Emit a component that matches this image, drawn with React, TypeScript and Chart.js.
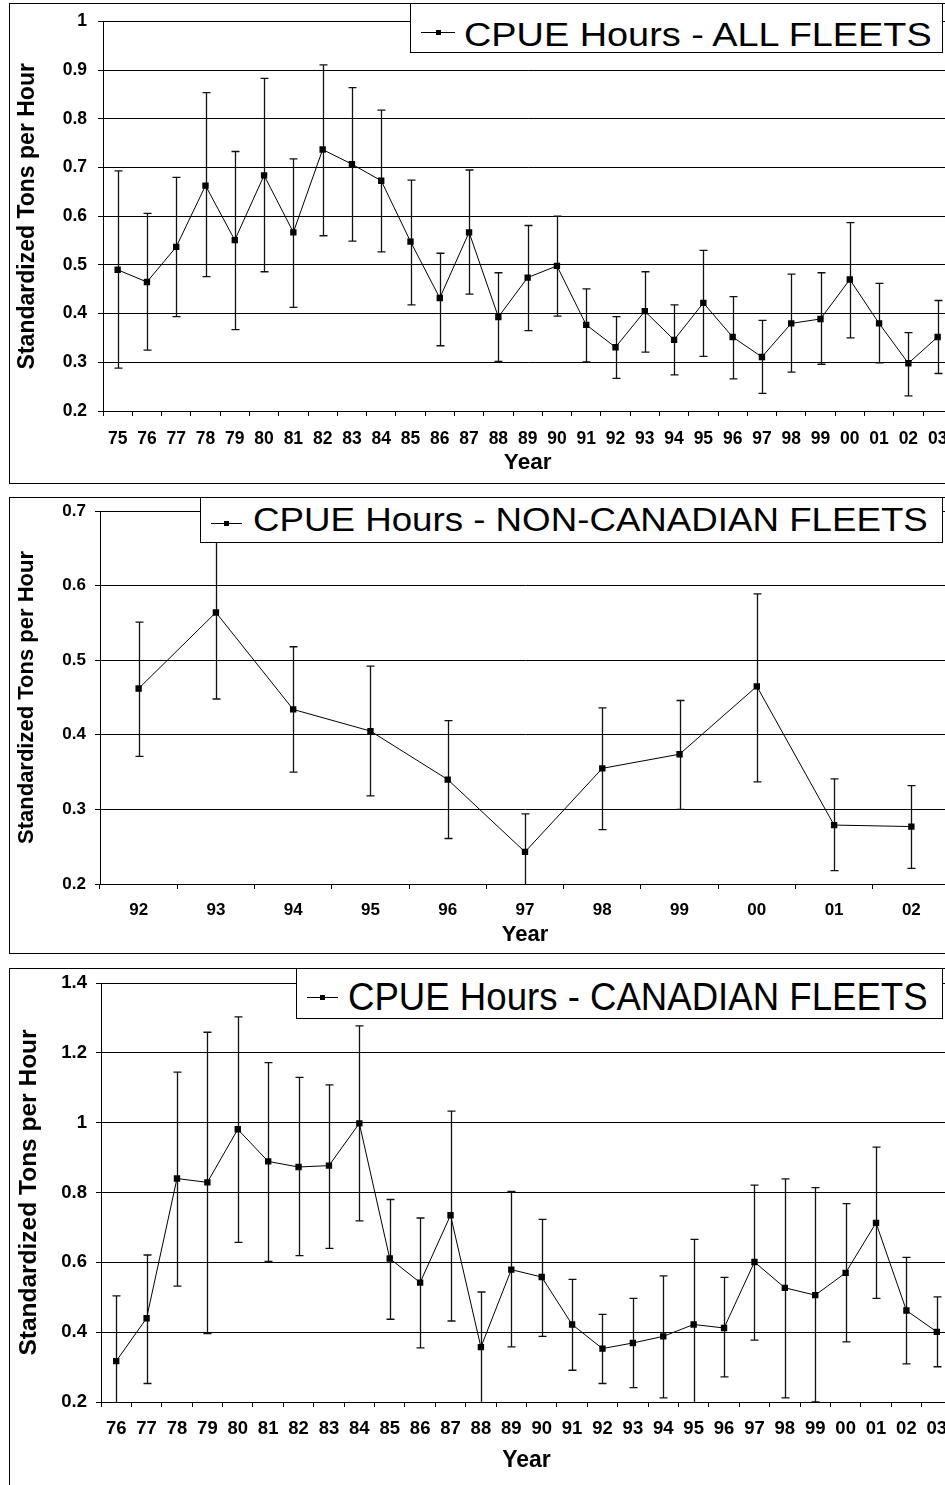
import React, { useEffect, useRef } from 'react';
import { Chart, registerables } from 'chart.js';

Chart.register(...registerables);

// ---------------- DATA ----------------
const yearsAll = ['75','76','77','78','79','80','81','82','83','84','85','86','87','88','89','90','91','92','93','94','95','96','97','98','99','00','01','02','03'];
const cpueAll = [0.490,0.465,0.537,0.663,0.551,0.684,0.567,0.737,0.707,0.673,0.548,0.432,0.567,0.393,0.474,0.498,0.377,0.331,0.405,0.346,0.422,0.352,0.311,0.380,0.389,0.470,0.380,0.298,0.352];
const upperAll = [0.693,0.606,0.680,0.854,0.733,0.883,0.718,0.911,0.864,0.818,0.674,0.524,0.695,0.484,0.581,0.600,0.451,0.394,0.486,0.418,0.530,0.435,0.386,0.481,0.484,0.587,0.462,0.361,0.427];
const lowerAll = [0.288,0.325,0.394,0.476,0.367,0.486,0.413,0.560,0.549,0.527,0.418,0.334,0.440,0.302,0.365,0.395,0.301,0.267,0.321,0.274,0.312,0.266,0.236,0.280,0.296,0.350,0.299,0.231,0.277];

const yearsNon = ['92','93','94','95','96','97','98','99','00','01','02'];
const cpueNon = [0.462,0.564,0.434,0.405,0.340,0.243,0.355,0.374,0.465,0.279,0.277];
const upperNon = [0.551,0.680,0.518,0.492,0.419,0.294,0.436,0.446,0.589,0.341,0.332];
const lowerNon = [0.371,0.448,0.350,0.318,0.261,0.190,0.273,0.300,0.337,0.218,0.221];

const yearsCan = ['76','77','78','79','80','81','82','83','84','85','86','87','88','89','90','91','92','93','94','95','96','97','98','99','00','01','02','03'];
const cpueCan = [0.317,0.440,0.840,0.829,0.981,0.889,0.873,0.877,0.998,0.611,0.542,0.735,0.357,0.579,0.558,0.422,0.353,0.369,0.388,0.422,0.412,0.601,0.527,0.506,0.570,0.713,0.462,0.401];
const upperCan = [0.504,0.621,1.145,1.259,1.303,1.172,1.130,1.108,1.277,0.780,0.727,1.033,0.515,0.803,0.723,0.551,0.451,0.497,0.561,0.666,0.557,0.821,0.839,0.814,0.768,0.930,0.614,0.501];
const lowerCan = [0.130,0.253,0.532,0.396,0.657,0.603,0.619,0.640,0.719,0.437,0.355,0.432,0.190,0.358,0.388,0.291,0.253,0.241,0.212,0.190,0.272,0.377,0.212,0.200,0.372,0.497,0.309,0.301];

const titleAll = 'CPUE Hours - ALL FLEETS';
const titleNon = 'CPUE Hours - NON-CANADIAN FLEETS';
const titleCan = 'CPUE Hours - CANADIAN FLEETS';
const yTitle = 'Standardized Tons per Hour';
const xTitle = 'Year';

const FONT = 'Arial, "Liberation Sans", Helvetica, sans-serif';
const CANVAS_W = 960;

const errorBarPlugin = {
  id: 'errorBars',
  beforeDatasetsDraw(chart: any, _args: any, opts: any) {
    const { ctx, chartArea, scales } = chart;
    const x = scales.x;
    const y = scales.y;
    const up: number[] = opts.upper || [];
    const lo: number[] = opts.lower || [];
    ctx.save();
    ctx.beginPath();
    ctx.rect(chartArea.left, chartArea.top - 1, chartArea.right - chartArea.left, chartArea.bottom - chartArea.top + 1);
    ctx.clip();
    ctx.strokeStyle = '#111';
    ctx.lineWidth = 1.3;
    for (let i = 0; i < up.length; i++) {
      const px = Math.round(x.getPixelForValue(i)) + 0.5;
      const yu = y.getPixelForValue(up[i]);
      const yl = y.getPixelForValue(lo[i]);
      ctx.beginPath();
      ctx.moveTo(px, yu);
      ctx.lineTo(px, yl);
      ctx.moveTo(px - 4, yu);
      ctx.lineTo(px + 4, yu);
      ctx.moveTo(px - 4, yl);
      ctx.lineTo(px + 4, yl);
      ctx.stroke();
    }
    ctx.restore();
  },
};

type PanelCfg = {
  labels: string[];
  values: number[];
  upper: number[];
  lower: number[];
  min: number;
  max: number;
  step: number;
  canvasTop: number;
  height: number;
  area: { top: number; bottom: number; left: number; right: number };
  tickFont: number;
  yTickPad: number;
  xTickPad: number;
  yTitleFont: number;
  yTitlePad: number;
  xTitleFont: number;
  xTitlePad: number;
};

function ChartPanel({ cfg }: { cfg: PanelCfg }) {
  const ref = useRef<HTMLCanvasElement | null>(null);
  useEffect(() => {
    if (!ref.current) return;
    const a = cfg.area;
    const chart = new Chart(ref.current, {
      type: 'line',
      data: {
        labels: cfg.labels,
        datasets: [
          {
            data: cfg.values,
            borderColor: '#000',
            backgroundColor: '#000',
            borderWidth: 1,
            pointStyle: 'rect',
            pointRadius: 4.5,
            pointBackgroundColor: '#000',
            pointBorderColor: '#000',
            pointBorderWidth: 0,
            tension: 0,
            fill: false,
          },
        ],
      },
      options: {
        responsive: false,
        animation: false,
        devicePixelRatio: 1,
        layout: {
          padding: { top: a.top - cfg.canvasTop, right: CANVAS_W - a.right, left: 0, bottom: 0 },
        },
        plugins: {
          legend: { display: false },
          tooltip: { enabled: false },
          errorBars: { upper: cfg.upper, lower: cfg.lower },
        } as any,
        scales: {
          x: {
            type: 'category',
            offset: true,
            grid: { display: true, drawOnChartArea: false, drawTicks: true, tickLength: 5, offset: true, color: '#000', lineWidth: 1 },
            border: { display: true, color: '#000', width: 1 },
            ticks: { color: '#000', font: { family: FONT, size: cfg.tickFont, weight: 'bold' }, padding: cfg.xTickPad, autoSkip: false, maxRotation: 0, minRotation: 0 },
            title: { display: true, text: xTitle, color: '#000', font: { family: FONT, size: cfg.xTitleFont, weight: 'bold' }, padding: { top: 0, bottom: cfg.xTitlePad } },
            afterFit: (s: any) => { s.height = cfg.canvasTop + cfg.height - a.bottom; },
          },
          y: {
            min: cfg.min,
            max: cfg.max,
            grid: { display: true, drawTicks: true, tickLength: 5, color: '#000', lineWidth: 1 },
            border: { display: true, color: '#000', width: 1 },
            ticks: {
              stepSize: cfg.step,
              color: '#000',
              font: { family: FONT, size: cfg.tickFont, weight: 'bold' },
              padding: cfg.yTickPad,
              callback: (v: any) => String(Number(Number(v).toFixed(1))),
            },
            title: { display: true, text: yTitle, color: '#000', font: { family: FONT, size: cfg.yTitleFont, weight: 'bold' }, padding: { top: cfg.yTitlePad, bottom: 0 } },
            afterFit: (s: any) => { s.width = a.left; },
          },
        },
      } as any,
      plugins: [errorBarPlugin as any],
    });
    return () => chart.destroy();
  }, [cfg]);
  return (
    <canvas
      ref={ref}
      width={CANVAS_W}
      height={cfg.height}
      style={{ position: 'absolute', left: 0, top: cfg.canvasTop, width: CANVAS_W, height: cfg.height }}
    />
  );
}

type LegendCfg = {
  box: { left: number; top: number; right: number; bottom: number };
  line: { x1: number; x2: number; y: number };
  text: string;
  textLeft: number;
  capCenter: number;
  fontSize: number;
  scaleX: number;
};

function LegendBox({ l }: { l: LegendCfg }) {
  const mid = (l.line.x1 + l.line.x2) / 2;
  return (
    <>
      <div
        style={{
          position: 'absolute',
          left: l.box.left,
          top: l.box.top,
          width: l.box.right - l.box.left + 1,
          height: l.box.bottom - l.box.top + 1,
          border: '1px solid #000',
          background: '#fff',
          boxSizing: 'border-box',
        }}
      />
      <div style={{ position: 'absolute', left: l.line.x1, top: l.line.y, width: l.line.x2 - l.line.x1, height: 1, background: '#000' }} />
      <div style={{ position: 'absolute', left: mid - 2.5, top: l.line.y - 2, width: 5, height: 5, background: '#000' }} />
      <span
        style={{
          position: 'absolute',
          left: l.textLeft,
          top: l.capCenter - 0.4885 * l.fontSize,
          fontFamily: FONT,
          fontSize: l.fontSize,
          lineHeight: `${l.fontSize}px`,
          whiteSpace: 'nowrap',
          color: '#000',
          transform: `scaleX(${l.scaleX})`,
          transformOrigin: 'left center',
        }}
      >
        {l.text}
      </span>
    </>
  );
}

const panel1: PanelCfg = {
  labels: yearsAll, values: cpueAll, upper: upperAll, lower: lowerAll,
  min: 0.2, max: 1, step: 0.1,
  canvasTop: 0, height: 483,
  area: { top: 19, bottom: 411, left: 103, right: 953 },
  tickFont: 17.5, yTickPad: 11, xTickPad: 12.5,
  yTitleFont: 23, yTitlePad: 14, xTitleFont: 22.5, xTitlePad: 7,
};
const panel2: PanelCfg = {
  labels: yearsNon, values: cpueNon, upper: upperNon, lower: lowerNon,
  min: 0.2, max: 0.7, step: 0.1,
  canvasTop: 484, height: 471,
  area: { top: 511, bottom: 884, left: 100, right: 950 },
  tickFont: 17, yTickPad: 9, xTickPad: 11.5,
  yTitleFont: 22, yTitlePad: 14, xTitleFont: 22, xTitlePad: 7,
};
const panel3: PanelCfg = {
  labels: yearsCan, values: cpueCan, upper: upperCan, lower: lowerCan,
  min: 0.2, max: 1.4, step: 0.2,
  canvasTop: 955, height: 530,
  area: { top: 983, bottom: 1402, left: 101, right: 952 },
  tickFont: 18.5, yTickPad: 9, xTickPad: 10.5,
  yTitleFont: 24.5, yTitlePad: 15, xTitleFont: 23, xTitlePad: 11,
};

const legend1: LegendCfg = {
  box: { left: 410, top: 3, right: 942, bottom: 52 },
  line: { x1: 421, x2: 455, y: 32 },
  text: titleAll, textLeft: 464, capCenter: 34.7, fontSize: 33.5, scaleX: 1.13,
};
const legend2: LegendCfg = {
  box: { left: 200, top: 497, right: 942, bottom: 542 },
  line: { x1: 211, x2: 242, y: 523 },
  text: titleNon, textLeft: 253, capCenter: 520, fontSize: 32.5, scaleX: 1.129,
};
const legend3: LegendCfg = {
  box: { left: 296, top: 968, right: 942, bottom: 1018 },
  line: { x1: 307, x2: 338, y: 997 },
  text: titleCan, textLeft: 348, capCenter: 997.2, fontSize: 38.7, scaleX: 0.946,
};

export default function App() {
  const frame = (top: number, height: number): React.CSSProperties => ({
    position: 'absolute', left: 9, top, width: 1000, height, border: '1px solid #000', boxSizing: 'border-box', pointerEvents: 'none',
  });
  return (
    <div style={{ position: 'absolute', left: 0, top: 0, width: 945, height: 1485, overflow: 'hidden', background: '#fff' }}>
      <ChartPanel cfg={panel1} />
      <ChartPanel cfg={panel2} />
      <ChartPanel cfg={panel3} />
      <div style={frame(3, 481)} />
      <div style={frame(497, 457)} />
      <div style={frame(968, 600)} />
      <LegendBox l={legend1} />
      <LegendBox l={legend2} />
      <LegendBox l={legend3} />
    </div>
  );
}
